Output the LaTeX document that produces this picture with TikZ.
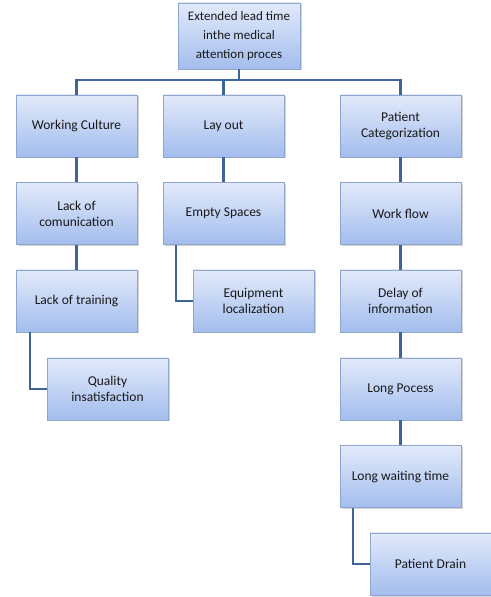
\documentclass[tikz,border=0pt]{standalone}
\usepackage{fontspec}
\setmainfont{Carlito}
\usepackage{xcolor}
\usetikzlibrary{shadows}

\definecolor{boxtop}{HTML}{E2EAFA}
\definecolor{boxbot}{HTML}{A3BDEE}
\definecolor{boxline}{HTML}{8FA6CC}
\definecolor{linkcol}{HTML}{3F6597}

\begin{document}
\begin{tikzpicture}[x=1pt, y=1pt,
    box/.style={draw=boxline, line width=0.6pt,
      top color=boxtop, bottom color=boxbot,
      drop shadow={shadow xshift=1.5pt, shadow yshift=-1.5pt, opacity=0.35},
      minimum width=121pt, minimum height=62pt,
      align=center, inner sep=2pt, text=black!90,
      font=\fontsize{13.5}{16}\selectfont},
    link/.style={draw=linkcol, line width=2.2pt}]
  \useasboundingbox (0,0) rectangle (490,597);

  % root
  \node[box, minimum width=122pt, minimum height=66pt,
    font=\fontsize{13}{19}\selectfont] (top) at (239,561)
    {Extended lead time\\inthe medical\\attention proces};

  % first level
  \node[box] (wc)  at (76.5,471) {Working Culture};
  \node[box] (lay) at (223.5,471) {Lay out};
  \node[box] (pc)  at (400.5,471) {Patient\\Categorization};

  % working culture branch
  \node[box] (lc) at (76.5,383.5) {Lack of\\comunication};
  \node[box] (lt) at (76.5,296) {Lack of training};
  \node[box] (qi) at (107.5,208) {Quality\\insatisfaction};

  % lay out branch
  \node[box] (es) at (223.5,383.5) {Empty Spaces};
  \node[box] (eq) at (253.5,296) {Equipment\\localization};

  % patient branch
  \node[box] (wf) at (400.5,383.5) {Work flow};
  \node[box] (di) at (400.5,296) {Delay of\\information};
  \node[box] (lp) at (400.5,208) {Long Pocess};
  \node[box] (lw) at (400.5,120.5) {Long waiting time};
  \node[box] (pd) at (430.5,33) {Patient Drain};

  \path (top.south) ++(0,-11) coordinate (bus);
  \path[link] (top.south) -- (bus)
    (wc.north) |- (bus) -| (pc.north)
    (lay.north) -- (lay.north |- bus)
    (wc) -- (lc) (lc) -- (lt)
    ([xshift=14pt]lt.south west) |- (qi.west)
    (lay) -- (es)
    ([xshift=13pt]es.south west) |- (eq.west)
    (pc) -- (wf) (wf) -- (di) (di) -- (lp) (lp) -- (lw)
    ([xshift=13pt]lw.south west) |- (pd.west);
\end{tikzpicture}
\end{document}
